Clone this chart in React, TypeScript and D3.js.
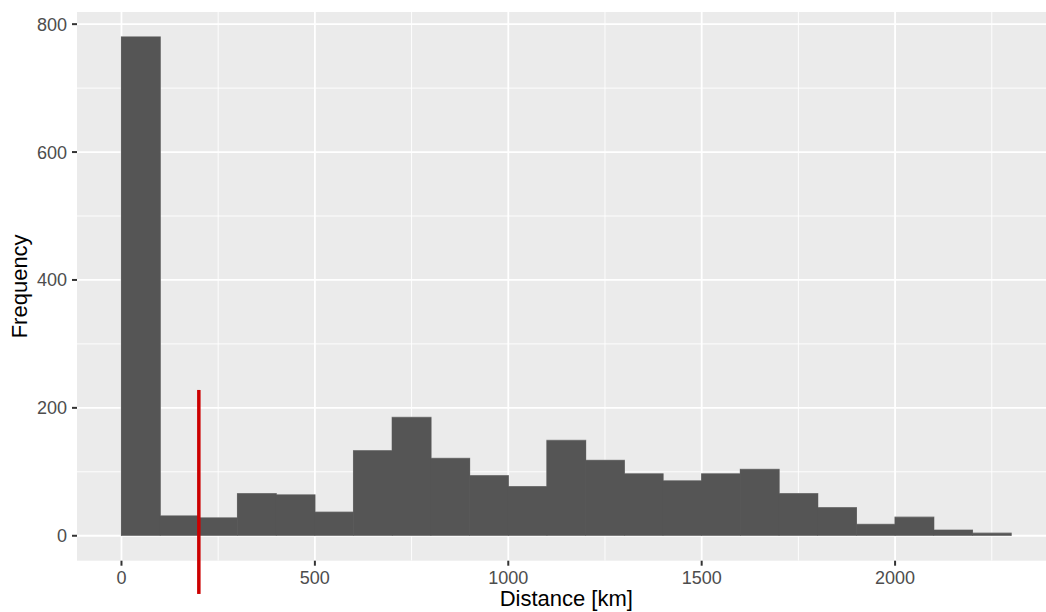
import React from 'react';
import * as d3 from 'd3';

// histogram bins (width 100 km) and their counts
const binStarts = [0, 100, 200, 300, 400, 500, 600, 700, 800, 900, 1000, 1100, 1200, 1300, 1400, 1500, 1600, 1700, 1800, 1900, 2000, 2100, 2200];
const counts = [780, 31, 28, 66, 64, 37, 133, 185, 121, 94, 77, 149, 118, 97, 86, 97, 104, 66, 44, 18, 29, 9, 4];
const binWidth = 100;

const xTicks = [0, 500, 1000, 1500, 2000];
const xMinor = [250, 750, 1250, 1750, 2250];
const yTicks = [0, 200, 400, 600, 800];
const yMinor = [100, 300, 500, 700];

// red marker line
const markerX = 200;
const markerY = [-91, 228];

const W = 1046;
const H = 612;
const font = '"Liberation Sans", Arial, Helvetica, sans-serif';

export default function App() {
  const left = 77, top = 12, right = 1055.6, bottom = 560.7;

  const xMax = binStarts[binStarts.length - 1] + binWidth;
  const xPad = xMax * 0.05;
  const x = d3.scaleLinear().domain([-xPad, xMax + xPad]).range([left, right]);

  const yMaxV = d3.max(counts) as number;
  const yPad = yMaxV * 0.05;
  const y = d3.scaleLinear().domain([-yPad, yMaxV + yPad]).range([bottom, top]);

  // outline of the whole histogram (step path), like ggplot's merged bars
  const outline = d3.line<[number, number]>().x(d => x(d[0])).y(d => y(d[1]));
  const steps: [number, number][] = [[binStarts[0], 0]];
  binStarts.forEach((b, i) => {
    steps.push([b, counts[i]]);
    steps.push([b + binWidth, counts[i]]);
  });
  steps.push([xMax, 0]);

  return (
    <svg width={W} height={H} style={{position: 'absolute', left: 0, top: 0, background: '#fff'}}>
      <defs>
        <clipPath id="panel">
          <rect x={left} y={top} width={right - left} height={bottom - top} />
        </clipPath>
      </defs>
      <rect x={left} y={top} width={right - left} height={bottom - top} fill="#ebebeb" />
      <g clipPath="url(#panel)">
        {yMinor.map(v => (
          <line key={'ym' + v} x1={left} x2={right} y1={y(v)} y2={y(v)} stroke="#fff" strokeWidth={0.9} />
        ))}
        {xMinor.map(v => (
          <line key={'xm' + v} y1={top} y2={bottom} x1={x(v)} x2={x(v)} stroke="#fff" strokeWidth={0.9} />
        ))}
        {yTicks.map(v => (
          <line key={'yg' + v} x1={left} x2={right} y1={y(v)} y2={y(v)} stroke="#fff" strokeWidth={1.8} />
        ))}
        {xTicks.map(v => (
          <line key={'xg' + v} y1={top} y2={bottom} x1={x(v)} x2={x(v)} stroke="#fff" strokeWidth={1.8} />
        ))}
        <path d={outline(steps) as string} fill="none" stroke="#8a8a8a" strokeWidth={1.2} />
        {binStarts.map((b, i) => (
          <rect key={b} x={x(b) - 0.3} y={y(counts[i])} width={x(b + binWidth) - x(b) + 0.6} height={y(0) - y(counts[i])}
            fill="#555555" />
        ))}
      </g>
      <line x1={x(markerX)} x2={x(markerX)} y1={y(markerY[0])} y2={y(markerY[1])} stroke="#cc0000" strokeWidth={3.5} />

      {yTicks.map(v => (
        <g key={'yt' + v}>
          <line x1={left - 5} x2={left} y1={y(v)} y2={y(v)} stroke="#333" strokeWidth={2} />
          <text x={left - 10} y={y(v)} dy="0.36em" textAnchor="end" fontSize={18} fill="#4d4d4d" fontFamily={font}>{v}</text>
        </g>
      ))}
      {xTicks.map(v => (
        <g key={'xt' + v}>
          <line y1={bottom} y2={bottom + 5} x1={x(v)} x2={x(v)} stroke="#333" strokeWidth={2} />
          <text x={x(v)} y={584} textAnchor="middle" fontSize={18} fill="#4d4d4d" fontFamily={font}>{v}</text>
        </g>
      ))}
      <text x={(left + right) / 2} y={606} textAnchor="middle" fontSize={22} fill="#000" fontFamily={font}>Distance [km]</text>
      <text transform={`translate(27,${(top + bottom) / 2}) rotate(-90)`} textAnchor="middle" fontSize={22} fill="#000" fontFamily={font}>Frequency</text>
    </svg>
  );
}
